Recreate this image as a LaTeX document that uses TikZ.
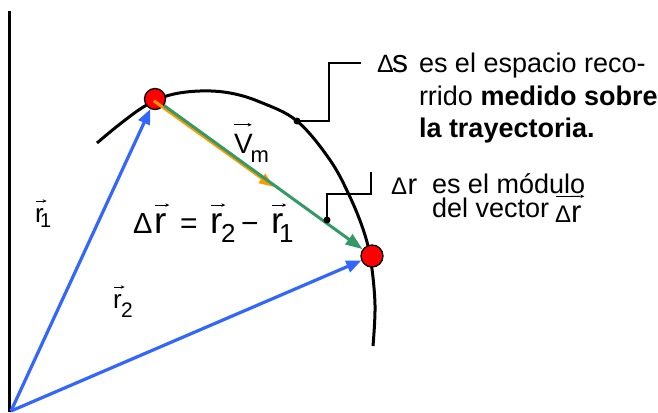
\documentclass[tikz,border=0pt]{standalone}
\usepackage{fontspec}
\setmainfont{Liberation Sans}
\usetikzlibrary{arrows.meta,calc}
\newcommand\fsz[1]{\fontsize{#1}{#1}\selectfont}
\definecolor{vblue}{HTML}{3366FF}
\definecolor{vgreen}{HTML}{339966}
\definecolor{vorange}{HTML}{FF9900}
\begin{document}
\begin{tikzpicture}[x=1pt,y=-1pt,
  txt/.style={anchor=base west,inner sep=0pt,outer sep=0pt},
  vecarr/.style={line width=0.8pt,-{Stealth[length=4pt,width=3.5pt]}},
  pt/.style={circle,fill=red,draw=black,line width=1.3pt,minimum size=21pt,inner sep=0pt},
  bluearr/.style={draw=vblue,line width=3.2pt,-{Triangle[length=15pt,width=12pt]}},
  greenarr/.style={draw=vgreen,line width=3pt,-{Triangle[length=17pt,width=12pt]}},
  orangearr/.style={draw=vorange,line width=3pt,-{Triangle[length=15pt,width=11pt]}},
  leader/.style={line width=1.5pt},
  traj/.style={line width=3pt}]
\useasboundingbox (0,0) rectangle (658,412);
% axis
\coordinate (axTop) at (9,11);
\coordinate (axBot) at (9,412);
\draw[line width=3pt] (axTop) -- (axBot);
\coordinate (O) at (11,411);
% trajectory
\draw[traj] plot[smooth,tension=0.6] coordinates {(97,143) (120,124) (145,106) (170,95) (200,91) (230,93) (260,102) (297,121) (330,160) (350,197) (364,232) (371,262) (375,305) (373,346)};
% points
\node[pt] (P1) at (155,99) {};
\node[pt,minimum height=22pt] (P2) at (372,256) {};
% vectors
\draw[bluearr] (O) -- (P1);
\draw[bluearr] (O) -- (P2);
\coordinate (vtip) at (274,187);
\draw[orangearr] ($(P1)+(-1.2,1.8)$) -- (vtip);
\draw[greenarr] (P1) -- (P2);
% leaders
\coordinate (ds) at (297,121);
\coordinate (dsc) at (329,63);
\coordinate (dsEnd) at (361,63);
\fill (ds) circle[radius=3.5pt];
\draw[leader] (ds) -| (dsc) -- (dsEnd);
\coordinate (dr) at (327,220);
\coordinate (drc) at (371,194);
\coordinate (drEnd) at (371,172);
\fill (dr) circle[radius=3.5pt];
\draw[leader] (dr) |- (drc) -- (drEnd);
% formula
\node[txt,font=\fsz{29}] (fD) at (133,233) {Δ};
\node[txt,font=\fsz{37}] (fr) at (154,233) {r};
\node[txt,font=\fsz{30}] (feq) at (180,233) {=};
\node[txt,font=\fsz{37}] (fr2) at (210,233) {r};
\node[txt,font=\fsz{26}] (fs2) at (221,242) {2};
\node[txt,font=\fsz{30}] (fmin) at (241,233) {−};
\node[txt,font=\fsz{37}] (fr1) at (271,233) {r};
\node[txt,font=\fsz{26}] (fs1) at (279,242) {1};
\draw[vecarr] ($(fr.north west)+(1,-8)$) -- ($(fr.north east)+(3,-8)$);
\draw[vecarr] ($(fr2.north west)+(1,-8)$) -- ($(fr2.north east)+(3,-8)$);
\draw[vecarr] ($(fr1.north west)+(1,-8)$) -- ($(fr1.north east)+(3,-8)$);
% r1, r2 labels
\node[txt,font=\fsz{26}] (lr1) at (35,222) {r};
\node[txt,font=\fsz{20}] (ls1) at (40,227) {1};
\draw[vecarr] ($(lr1.north west)+(1,-7)$) -- ($(lr1.north east)+(3,-7)$);
\node[txt,font=\fsz{26}] (lr2) at (113,308) {r};
\node[txt,font=\fsz{21}] (ls2) at (121,317) {2};
\draw[vecarr] ($(lr2.north west)+(1,-7)$) -- ($(lr2.north east)+(3,-7)$);
% Vm
\node[txt,font=\fsz{28}] (vV) at (234,153) {V};
\node[txt,font=\fsz{22}] (vm) at (250.5,162) {m};
\draw[vecarr] ($(vV.north west)+(0,-9)$) -- ($(vV.north east)+(-1,-9)$);
% Delta s text
\node[txt,font=\fsz{25}] (sD) at (377,73) {Δ};
\node[txt,font=\fsz{32}] (ss) at (392,73) {s};
\node[txt,font=\fsz{27}] (s1) at (419,73) {es el espacio reco-};
\node[txt,font=\fsz{27}] (s2) at (419,105) {rrido \textbf{medido sobre}};
\node[txt,font=\fsz{27}] (s3) at (419,137) {\textbf{la trayectoria.}};
% Delta r text
\node[txt,font=\fsz{24}] (rD) at (391,194) {Δ};
\node[txt,font=\fsz{29}] (rr) at (407.5,194) {r};
\node[txt,font=\fsz{27}] (m1) at (432,193) {es el módulo};
\node[txt,font=\fsz{27}] (m2) at (432,217) {del vector};
\node[txt,font=\fsz{24}] (vD) at (555,222) {Δ};
\node[txt,font=\fsz{31}] (vr) at (571,222) {r};
\draw[vecarr] ($(vD.north west)+(1,-9)$) -- ($(vr.north east)+(3,-9)$);
\end{tikzpicture}
\end{document}
